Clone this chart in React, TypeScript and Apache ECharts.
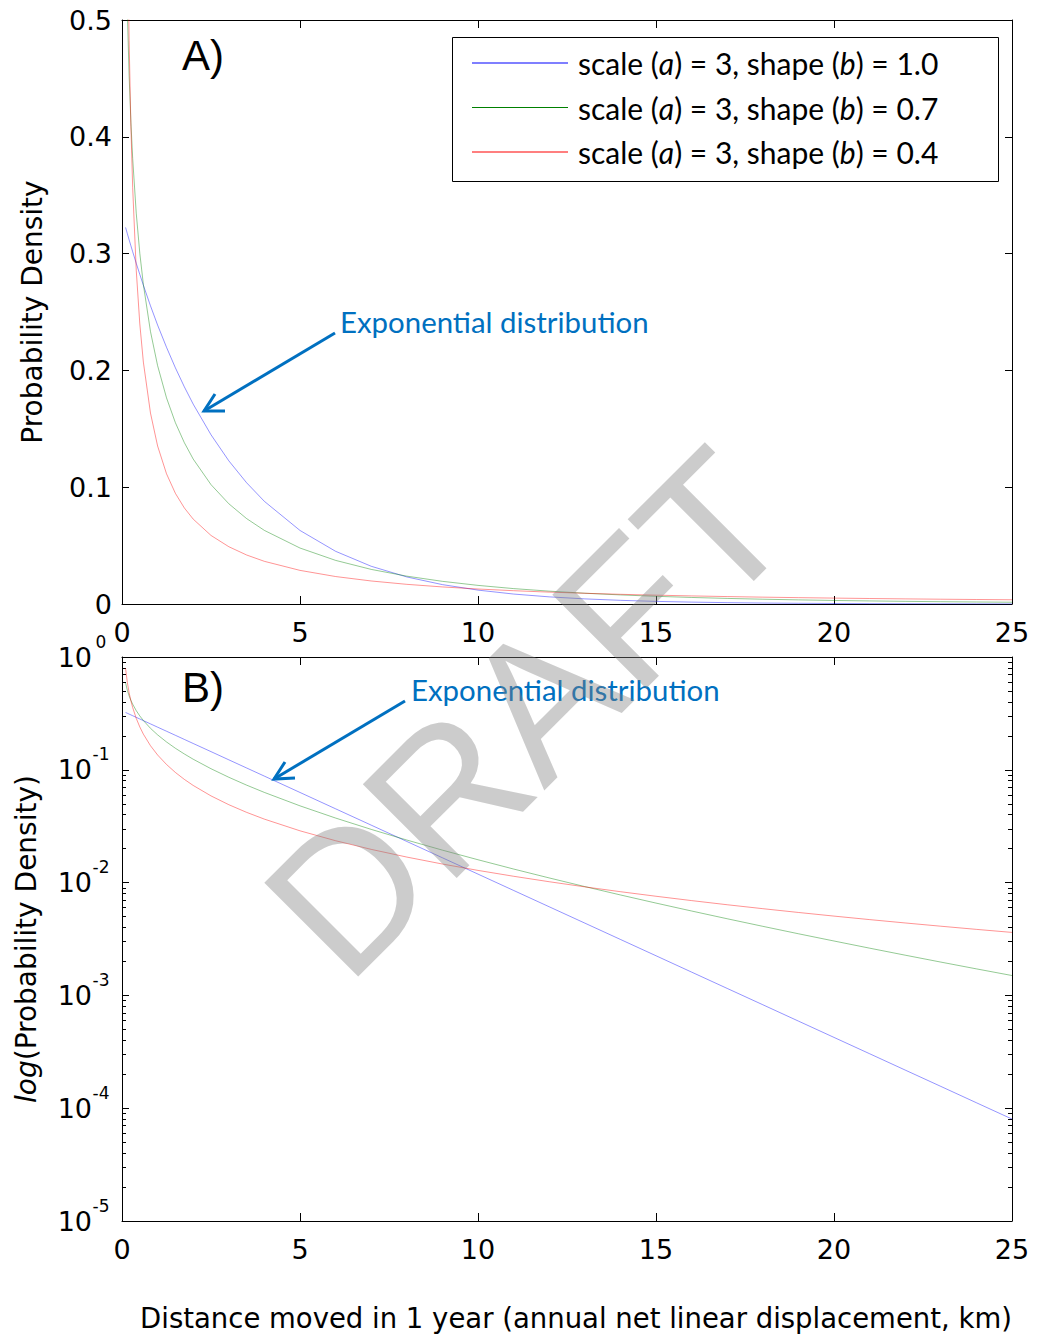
import React, { useEffect, useRef } from "react";
import * as echarts from "echarts";

// Distance moved in 1 year (km)
const distanceKm = [0.1, 0.15, 0.2, 0.25, 0.3, 0.4, 0.5, 0.6, 0.8, 1, 1.25, 1.5, 1.75, 2, 2.5, 3, 3.5, 4, 5, 6, 7, 8, 9, 10, 11, 12, 13, 14, 15, 16, 17, 18, 19, 20, 21, 22, 23, 24, 25];

// Probability density, scale a = 3
const densityShape10 = [0.3224, 0.3171, 0.3118, 0.3067, 0.3016, 0.2917, 0.2822, 0.2729, 0.2553, 0.2388, 0.2198, 0.2022, 0.186, 0.1711, 0.1449, 0.1226, 0.1038, 0.08787, 0.06296, 0.04511, 0.03232, 0.02316, 0.0166, 0.01189, 0.00852, 0.006105, 0.004375, 0.003135, 0.002246, 0.001609, 0.001153, 0.0008263, 0.000592, 0.0004242, 0.000304, 0.0002178, 0.0001561, 0.0001118, 0.00008012];
const densityShape07 = [0.5901, 0.5069, 0.4524, 0.4125, 0.3814, 0.3346, 0.3003, 0.2735, 0.2333, 0.2041, 0.1765, 0.1552, 0.1382, 0.1241, 0.1022, 0.08584, 0.07313, 0.063, 0.04791, 0.03734, 0.02963, 0.02384, 0.0194, 0.01594, 0.01319, 0.011, 0.00922, 0.007773, 0.006583, 0.005599, 0.00478, 0.004096, 0.00352, 0.003035, 0.002623, 0.002273, 0.001974, 0.001719, 0.0015];
const densityShape04 = [0.794, 0.5951, 0.4826, 0.409, 0.3565, 0.2858, 0.2398, 0.2071, 0.1635, 0.1353, 0.1115, 0.09472, 0.08229, 0.07267, 0.0587, 0.04905, 0.04196, 0.03653, 0.02878, 0.02351, 0.01971, 0.01684, 0.01461, 0.01283, 0.01138, 0.01018, 0.009165, 0.008305, 0.007566, 0.006925, 0.006364, 0.005872, 0.005436, 0.005047, 0.004699, 0.004387, 0.004105, 0.003849, 0.003617];

const seriesKeys = ["b10", "b07", "b04"];
const shapeLabels = ["1.0", "0.7", "0.4"];
const xTicks = [0, 5, 10, 15, 20, 25];
const linearYTicks = [0, 0.1, 0.2, 0.3, 0.4, 0.5];
const logMinorTicks = [
  2e-5, 3e-5, 4e-5, 5e-5, 6e-5, 7e-5, 8e-5, 9e-5,
  2e-4, 3e-4, 4e-4, 5e-4, 6e-4, 7e-4, 8e-4, 9e-4,
  2e-3, 3e-3, 4e-3, 5e-3, 6e-3, 7e-3, 8e-3, 9e-3,
  2e-2, 3e-2, 4e-2, 5e-2, 6e-2, 7e-2, 8e-2, 9e-2,
  0.2, 0.3, 0.4, 0.5, 0.6, 0.7, 0.8, 0.9,
];

const ARIAL = '"Liberation Sans", Arial, sans-serif';
const WIDE = '"DejaVu Sans", "Liberation Sans", sans-serif';
const CAL = 'Lato, "Open Sans", sans-serif';

const lineColors = ["rgba(0,0,255,0.42)", "rgba(0,128,0,0.42)", "rgba(255,0,0,0.42)"];
const legendColors = ["#0000ff", "#008000", "#ff0000"];
const annotBlue = "#0070c0";

export default function App() {
  const ref = useRef<HTMLDivElement>(null);

  useEffect(() => {
    if (!ref.current) return;
    const chart = echarts.init(ref.current, null, { renderer: "svg" });
    const dataSets = [densityShape10, densityShape07, densityShape04];

    const xAxisFor = (grid: number, pos: string, labels: boolean) => ({
      type: "value",
      gridIndex: grid,
      position: pos,
      min: xTicks[0],
      max: xTicks[xTicks.length - 1],
      interval: 5,
      axisLine: { show: true, onZero: false, lineStyle: { color: "#000", width: 1 } },
      axisTick: { show: true, inside: true, length: 8, lineStyle: { color: "#000", width: 1 } },
      axisLabel: { show: labels, fontSize: 27, color: "#000", fontFamily: WIDE, margin: 15 },
      splitLine: { show: false },
    });

    const linY = (pos: string, labels: boolean) => ({
      type: "value",
      gridIndex: 0,
      position: pos,
      min: linearYTicks[0],
      max: linearYTicks[linearYTicks.length - 1],
      interval: 0.1,
      axisLine: { show: true, onZero: false, lineStyle: { color: "#000", width: 1 } },
      axisTick: { show: true, inside: true, length: 7, lineStyle: { color: "#000", width: 1 } },
      axisLabel: {
        show: labels,
        fontSize: 27,
        color: "#000",
        fontFamily: WIDE,
        margin: 10,
        formatter: (v: number) => (v === 0 ? "0" : v.toFixed(1)),
      },
      splitLine: { show: false },
    });

    const logY = (pos: string, labels: boolean, minor: boolean) => ({
      type: "log",
      logBase: 10,
      gridIndex: 1,
      position: pos,
      min: 1e-5,
      max: 1,
      axisLine: { show: !minor, onZero: false, lineStyle: { color: "#000", width: 1 } },
      axisTick: minor
        ? { show: true, inside: true, length: 4, customValues: logMinorTicks, lineStyle: { color: "#000", width: 1 } }
        : { show: true, inside: true, length: 7, lineStyle: { color: "#000", width: 1 } },
      axisLabel: {
        show: labels,
        margin: 12,
        formatter: (v: number) => `{b|10}{s|${Math.round(Math.log10(v))}}`,
        rich: {
          b: { fontSize: 27, fontFamily: WIDE, color: "#000", lineHeight: 48 },
          s: { fontSize: 17, fontFamily: WIDE, color: "#000", lineHeight: 16, verticalAlign: "top", width: 18, align: "left" },
        },
      },
      splitLine: { show: false },
      minorTick: { show: false },
    });

    const series: any[] = [];
    [0, 1].forEach((g) => {
      seriesKeys.forEach((k, i) => {
        series.push({
          name: k,
          type: "line",
          xAxisIndex: g * 2,
          yAxisIndex: g === 0 ? 0 : 2,
          data: distanceKm.map((x, j) => [x, dataSets[i][j]]),
          showSymbol: false,
          symbol: "none",
          clip: true,
          silent: true,
          lineStyle: { width: 1, color: lineColors[i] },
          itemStyle: { color: legendColors[i] },
          z: 2,
        });
      });
    });

    const legendText = (name: string) => {
      const idx = seriesKeys.indexOf(name);
      return `{n|scale (}{i|a}{n|) = 3, shape (}{i|b}{n|) = ${shapeLabels[idx]}}`;
    };

    const arrow = (tail: number[], tip: number[], b1: number[], b2: number[]) => [
      {
        type: "line",
        shape: { x1: tail[0], y1: tail[1], x2: tip[0], y2: tip[1] },
        style: { stroke: annotBlue, lineWidth: 3 },
        z: 20,
      },
      {
        type: "polyline",
        shape: { points: [b1, tip, b2] },
        style: { stroke: annotBlue, lineWidth: 3, fill: null },
        z: 20,
      },
    ];

    const annotText = (x: number, y: number) => ({
      type: "text",
      x,
      y,
      style: {
        text: "Exponential distribution",
        font: `29.4px ${CAL}`,
        fill: annotBlue,
        align: "left",
        verticalAlign: "middle",
        textAlign: "left",
        textVerticalAlign: "middle",
      },
      z: 20,
    });

    const option: any = {
      animation: false,
      backgroundColor: "#fff",
      grid: [
        { left: 122, top: 20, width: 890, height: 584, containLabel: false },
        { left: 122, top: 657, width: 890, height: 564, containLabel: false },
      ],
      xAxis: [xAxisFor(0, "bottom", true), xAxisFor(0, "top", false), xAxisFor(1, "bottom", true), xAxisFor(1, "top", false)],
      yAxis: [
        {
          ...linY("left", true),
          name: "Probability Density",
          nameLocation: "middle",
          nameGap: 76,
          nameTextStyle: { fontSize: 28, fontFamily: WIDE, color: "#000" },
        },
        linY("right", false),
        {
          ...logY("left", true, false),
          name: "{i|log}{n|(Probability Density)}",
          nameLocation: "middle",
          nameGap: 82,
          nameTextStyle: {
            fontSize: 28,
            fontFamily: WIDE,
            color: "#000",
            rich: {
              i: { fontSize: 28, fontFamily: WIDE, color: "#000", fontStyle: "italic" },
              n: { fontSize: 28, fontFamily: WIDE, color: "#000" },
            },
          },
        },
        logY("left", false, true),
        logY("right", false, false),
        logY("right", false, true),
      ],
      legend: {
        orient: "vertical",
        left: 472,
        top: 48,
        padding: 0,
        itemGap: 14.5,
        itemWidth: 96,
        itemHeight: 1,
        icon: "rect",
        selectedMode: false,
        z: 10,
        data: seriesKeys.map((k, i) => ({ name: k, itemStyle: { color: legendColors[i] } })),
        formatter: legendText,
        textStyle: {
          fontFamily: CAL,
          fontSize: 30,
          color: "#000",
          padding: [0, 0, 0, 5],
          rich: {
            n: { fontFamily: CAL, fontSize: 30, color: "#000", lineHeight: 30 },
            i: { fontFamily: CAL, fontSize: 30, color: "#000", fontStyle: "italic", lineHeight: 30 },
          },
        },
      },
      graphic: [
        {
          type: "rect",
          shape: { x: 452.5, y: 37.5, width: 546, height: 144 },
          style: { fill: "#fff", stroke: "#000", lineWidth: 1 },
          z: 3,
        },
        {
          type: "text",
          x: 182,
          y: 55,
          style: { text: "A)", font: `42px ${ARIAL}`, fill: "#000", align: "left", verticalAlign: "middle", textAlign: "left", textVerticalAlign: "middle" },
          z: 20,
        },
        {
          type: "text",
          x: 182,
          y: 687,
          style: { text: "B)", font: `42px ${ARIAL}`, fill: "#000", align: "left", verticalAlign: "middle", textAlign: "left", textVerticalAlign: "middle" },
          z: 20,
        },
        annotText(340, 321),
        ...arrow([335, 333], [204, 411], [215, 394], [225, 411]),
        annotText(411, 689),
        ...arrow([405, 701], [274, 779], [285, 762], [295, 778]),
        {
          type: "text",
          x: 576,
          y: 1318,
          style: {
            text: "Distance moved in 1 year (annual net linear displacement, km)",
            font: `27.5px ${WIDE}`,
            fill: "#000",
            align: "center",
            verticalAlign: "middle",
            textAlign: "center",
            textVerticalAlign: "middle",
          },
          z: 20,
        },
        {
          type: "text",
          x: 527,
          y: 713,
          rotation: Math.PI / 4,
          style: {
            text: "DRAFT",
            font: `193px ${ARIAL}`,
            fill: "rgba(128,128,128,0.4)",
            align: "center",
            verticalAlign: "middle",
            textAlign: "center",
            textVerticalAlign: "middle",
          },
          z: 100,
        },
      ],
      series,
    };

    chart.setOption(option);
    return () => chart.dispose();
  }, []);

  return <div ref={ref} style={{ position: "absolute", left: 0, top: 0, width: 1039, height: 1340 }} />;
}
